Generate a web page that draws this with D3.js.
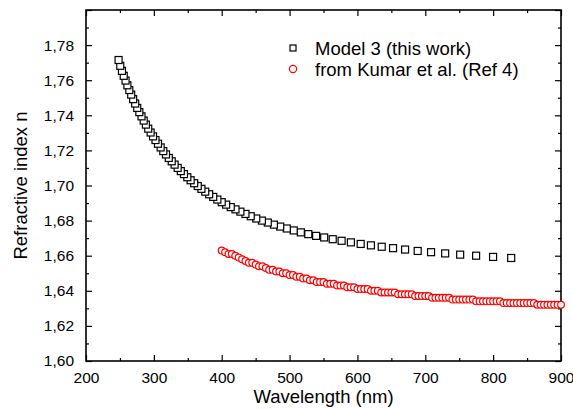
<!DOCTYPE html>
<html>
<head>
<meta charset="utf-8">
<script src="https://cdn.jsdelivr.net/npm/d3@7"></script>
<style>
  html, body { margin: 0; padding: 0; background: #fff; }
  svg { display: block; font-family: "Liberation Sans", Arial, sans-serif; }
</style>
</head>
<body>
<svg id="chart" width="573" height="409"></svg>
<script>
// Model 3 (this work): wavelength (nm) and refractive index
const modelWavelength = [
  826.6, 799.9, 774.9, 751.4, 729.3, 708.5, 688.8, 670.2, 652.5, 635.8,
  619.9, 604.8, 590.4, 576.7, 563.6, 551.0, 539.1, 527.6, 516.6, 506.1,
  495.9, 486.2, 476.9, 467.9, 459.2, 450.9, 442.8, 435.0, 427.5, 420.3,
  413.3, 406.5, 400.0, 393.6, 387.5, 381.5, 375.7, 370.1, 364.7, 359.4,
  354.2, 349.3, 344.4, 339.7, 335.1, 330.6, 326.3, 322.0, 317.9, 313.9,
  310.0, 306.1, 302.4, 298.8, 295.2, 291.7, 288.3, 285.0, 281.8, 278.6,
  275.5, 272.5, 269.5, 266.6, 263.8, 261.0, 258.3, 255.6, 253.0, 250.5,
  248.0
];
const modelIndex = [
  1.6587, 1.6593, 1.6600, 1.6606, 1.6613, 1.6620, 1.6627, 1.6635, 1.6643, 1.6651,
  1.6659, 1.6667, 1.6676, 1.6685, 1.6694, 1.6704, 1.6713, 1.6723, 1.6733, 1.6744,
  1.6755, 1.6766, 1.6777, 1.6789, 1.6800, 1.6812, 1.6825, 1.6838, 1.6851, 1.6864,
  1.6877, 1.6891, 1.6905, 1.6920, 1.6935, 1.6950, 1.6965, 1.6981, 1.6997, 1.7013,
  1.7030, 1.7047, 1.7065, 1.7082, 1.7100, 1.7119, 1.7138, 1.7157, 1.7177, 1.7196,
  1.7217, 1.7238, 1.7259, 1.7280, 1.7302, 1.7324, 1.7347, 1.7370, 1.7394, 1.7418,
  1.7442, 1.7467, 1.7492, 1.7518, 1.7544, 1.7571, 1.7598, 1.7625, 1.7653, 1.7682,
  1.7715
];

// Kumar et al. (Ref 4): wavelength (nm) and refractive index
const kumarWavelength = [
  400, 405, 410, 415, 420, 425, 430, 435, 440, 445,
  450, 455, 460, 465, 470, 475, 480, 485, 490, 495,
  500, 505, 510, 515, 520, 525, 530, 535, 540, 545,
  550, 555, 560, 565, 570, 575, 580, 585, 590, 595,
  600, 605, 610, 615, 620, 625, 630, 635, 640, 645,
  650, 655, 660, 665, 670, 675, 680, 685, 690, 695,
  700, 705, 710, 715, 720, 725, 730, 735, 740, 745,
  750, 755, 760, 765, 770, 775, 780, 785, 790, 795,
  800, 805, 810, 815, 820, 825, 830, 835, 840, 845,
  850, 855, 860, 865, 870, 875, 880, 885, 890, 895,
  900
];
const kumarIndex = [
  1.663, 1.662, 1.661, 1.661, 1.660, 1.659, 1.658, 1.657, 1.656, 1.656,
  1.655, 1.654, 1.654, 1.653, 1.652, 1.652, 1.651, 1.651, 1.650, 1.650,
  1.649, 1.649, 1.648, 1.648, 1.647, 1.647, 1.646, 1.646, 1.645, 1.645,
  1.645, 1.644, 1.644, 1.644, 1.643, 1.643, 1.643, 1.642, 1.642, 1.642,
  1.641, 1.641, 1.641, 1.641, 1.640, 1.640, 1.640, 1.639, 1.639, 1.639,
  1.639, 1.639, 1.638, 1.638, 1.638, 1.638, 1.638, 1.637, 1.637, 1.637,
  1.637, 1.637, 1.636, 1.636, 1.636, 1.636, 1.636, 1.636, 1.635, 1.635,
  1.635, 1.635, 1.635, 1.635, 1.635, 1.634, 1.634, 1.634, 1.634, 1.634,
  1.634, 1.634, 1.634, 1.633, 1.633, 1.633, 1.633, 1.633, 1.633, 1.633,
  1.633, 1.633, 1.633, 1.632, 1.632, 1.632, 1.632, 1.632, 1.632, 1.632,
  1.632
];

// Axis ticks and legend labels
const xMajorTicks = [200, 300, 400, 500, 600, 700, 800, 900];
const xMinorTicks = [250, 350, 450, 550, 650, 750, 850];
const yMajorTicks = [1.60, 1.62, 1.64, 1.66, 1.68, 1.70, 1.72, 1.74, 1.76, 1.78, 1.80];
const yMinorTicks = [1.61, 1.63, 1.65, 1.67, 1.69, 1.71, 1.73, 1.75, 1.77, 1.79];
const yLabelled = [1.60, 1.62, 1.64, 1.66, 1.68, 1.70, 1.72, 1.74, 1.76, 1.78];
const seriesNames = ["Model 3 (this work)", "from Kumar et al. (Ref 4)"];

const W = 573, H = 409;
const margin = { left: 86, right: 12, top: 10, bottom: 48 };
const plotW = W - margin.left - margin.right;
const plotH = H - margin.top - margin.bottom;

const svg = d3.select("#chart");
const g = svg.append("g").attr("transform", `translate(${margin.left},${margin.top})`);

const x = d3.scaleLinear().domain([200, 900]).range([0, plotW]);
const y = d3.scaleLinear().domain([1.60, 1.80]).range([plotH, 0]);

const comma = d3.formatLocale({ decimal: ",", thousands: ".", grouping: [3], currency: ["", ""] });
const fmtY = comma.format(".2f");

const majorLen = 6, minorLen = 3;

// Bottom axis with labels, inward ticks
const xAxis = g.append("g").attr("transform", `translate(0,${plotH})`)
  .call(d3.axisBottom(x).tickValues(xMajorTicks).tickSizeInner(-majorLen).tickSizeOuter(0).tickPadding(majorLen + 5).tickFormat(d3.format("d")));
xAxis.select(".domain").remove();
xAxis.selectAll("text").attr("font-size", 15.5).attr("fill", "#000");
xAxis.selectAll("line").attr("stroke", "#000").attr("stroke-width", 1.2);

g.append("g").attr("transform", `translate(0,${plotH})`)
  .call(d3.axisBottom(x).tickValues(xMinorTicks).tickSizeInner(-minorLen).tickSizeOuter(0).tickFormat(""))
  .call(a => a.select(".domain").remove())
  .selectAll("line").attr("stroke", "#000").attr("stroke-width", 1.2);

// Top axis ticks (no labels)
[[xMajorTicks, majorLen], [xMinorTicks, minorLen]].forEach(([vals, len]) => {
  g.append("g")
    .call(d3.axisTop(x).tickValues(vals).tickSizeInner(-len).tickSizeOuter(0).tickFormat(""))
    .call(a => a.select(".domain").remove())
    .selectAll("line").attr("stroke", "#000").attr("stroke-width", 1.2);
});

// Left axis with labels
const yAxis = g.append("g")
  .call(d3.axisLeft(y).tickValues(yMajorTicks).tickSizeInner(-majorLen).tickSizeOuter(0).tickPadding(majorLen + 6)
    .tickFormat(d => yLabelled.some(v => Math.abs(v - d) < 1e-9) ? fmtY(d) : ""));
yAxis.select(".domain").remove();
yAxis.selectAll("text").attr("font-size", 15.5).attr("fill", "#000");
yAxis.selectAll("line").attr("stroke", "#000").attr("stroke-width", 1.2);

g.append("g")
  .call(d3.axisLeft(y).tickValues(yMinorTicks).tickSizeInner(-minorLen).tickSizeOuter(0).tickFormat(""))
  .call(a => a.select(".domain").remove())
  .selectAll("line").attr("stroke", "#000").attr("stroke-width", 1.2);

// Right axis ticks (no labels)
[[yMajorTicks, majorLen], [yMinorTicks, minorLen]].forEach(([vals, len]) => {
  g.append("g").attr("transform", `translate(${plotW},0)`)
    .call(d3.axisRight(y).tickValues(vals).tickSizeInner(-len).tickSizeOuter(0).tickFormat(""))
    .call(a => a.select(".domain").remove())
    .selectAll("line").attr("stroke", "#000").attr("stroke-width", 1.2);
});

// Frame
g.append("rect").attr("x", 0).attr("y", 0).attr("width", plotW).attr("height", plotH)
  .attr("fill", "none").attr("stroke", "#000").attr("stroke-width", 1.6);

// Model 3 series: open squares
const sq = 7;
const modelData = modelWavelength.map((w, i) => ({ w, n: modelIndex[i] }));
g.append("g").selectAll("rect").data(modelData).join("rect")
  .attr("x", d => x(d.w) - sq / 2).attr("y", d => y(d.n) - sq / 2)
  .attr("width", sq).attr("height", sq)
  .attr("fill", "#fff").attr("stroke", "#000").attr("stroke-width", 1.2);

// Kumar et al. series: open red circles
const kumarData = kumarWavelength.map((w, i) => ({ w, n: kumarIndex[i] }));
g.append("g").selectAll("circle").data(kumarData).join("circle")
  .attr("cx", d => x(d.w)).attr("cy", d => y(d.n)).attr("r", 3.4)
  .attr("fill", "#fff").attr("stroke", "#ff0000").attr("stroke-width", 1.2);

// Axis titles
svg.append("text")
  .attr("x", margin.left + plotW / 2).attr("y", 403)
  .attr("text-anchor", "middle").attr("font-size", 18.5).attr("fill", "#000")
  .text("Wavelength (nm)");
svg.append("text")
  .attr("transform", `translate(27,${margin.top + plotH / 2}) rotate(-90)`)
  .attr("text-anchor", "middle").attr("font-size", 18.5).attr("fill", "#000")
  .text("Refractive index n");

// Legend
const legend = svg.append("g");
const legendRows = [48, 69];
legend.append("rect").attr("x", 293 - 3).attr("y", legendRows[0] - 3).attr("width", 6).attr("height", 6)
  .attr("fill", "#fff").attr("stroke", "#000").attr("stroke-width", 1.2);
legend.append("circle").attr("cx", 293).attr("cy", legendRows[1]).attr("r", 3.6)
  .attr("fill", "#fff").attr("stroke", "#ff0000").attr("stroke-width", 1.2);
seriesNames.forEach((name, i) => {
  legend.append("text").attr("x", 315).attr("y", legendRows[i] + 6.5)
    .attr("font-size", 18.5).attr("fill", "#000").text(name);
});
</script>
</body>
</html>
